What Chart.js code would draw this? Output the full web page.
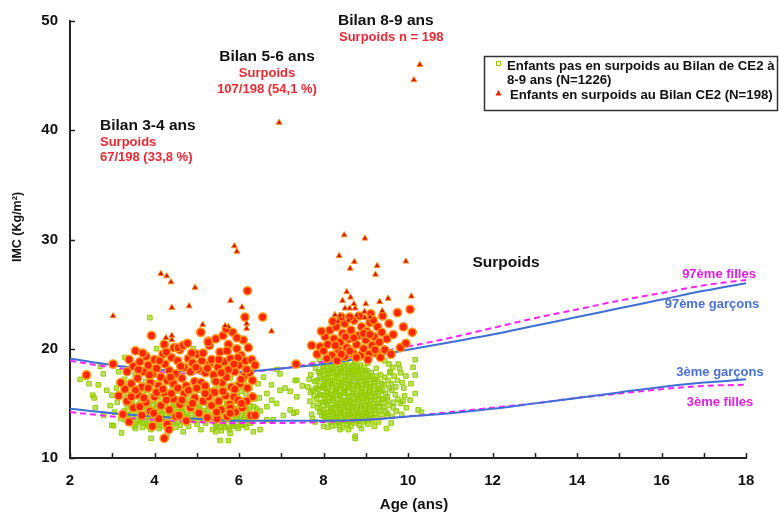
<!DOCTYPE html>
<html>
<head>
<meta charset="utf-8">
<script src="https://cdn.jsdelivr.net/npm/chart.js@4.4.1/dist/chart.umd.min.js"></script>
<style>
  html, body { margin: 0; padding: 0; background: #fff; }
  canvas { display: block; }
</style>
</head>
<body>
<canvas id="chart" width="779" height="515"></canvas>
<script>
const FONT = '"Liberation Sans", Arial, sans-serif';

// reference curves (IMC, percentiles)
const CURVE_AGES = [2, 3, 4, 5, 6, 7, 8, 9, 10, 11, 12, 13, 14, 15, 16, 17, 18];
const P97_GARCONS = [19.1, 18.5, 18.1, 17.9, 17.9, 18.2, 18.6, 19.2, 19.9, 20.6, 21.3, 22.1, 22.9, 23.7, 24.5, 25.3, 26.0];
const P97_FILLES = [18.9, 18.3, 17.9, 17.7, 17.8, 18.2, 18.8, 19.5, 20.2, 21.0, 21.9, 22.8, 23.6, 24.4, 25.1, 25.8, 26.3];
const P3_GARCONS = [14.5, 14.1, 13.8, 13.6, 13.4, 13.4, 13.4, 13.5, 13.8, 14.1, 14.5, 15.0, 15.5, 16.0, 16.5, 16.9, 17.2];
const P3_FILLES = [14.2, 13.8, 13.5, 13.3, 13.2, 13.2, 13.3, 13.5, 13.8, 14.2, 14.6, 15.0, 15.5, 15.9, 16.3, 16.6, 16.7];

const X_TICKS_MINOR = [2, 3, 4, 5, 6, 7, 8, 9, 10, 11, 12, 13, 14, 15, 16, 17, 18];
const Y_TICKS = [10, 20, 30, 40, 50];

// children not overweight at CE2 [age, IMC]
const GREEN_34 = [
  [2.24,17.2],[2.39,17.4],[2.45,16.8],[2.54,15.75],[2.57,15.5],[2.6,14.6],[2.67,16.7],[2.72,18.4],[2.79,17.7],[2.8,13.9],
  [2.87,16.2],[2.95,14.8],[2.99,15.75],[2.99,13.0],[3.03,12.95],[3.05,14.2],[3.1,16.4],[3.12,15.1],[3.15,17.9],[3.2,13.6],
  [3.3,19.2],[3.89,22.85],[4.05,20.0],[4.92,20.0],[3.55,12.7],[3.92,11.8],[4.68,12.4],[5.45,12.4],[3.22,12.3],[4.3,12.2],[5.1,12.6],
  [3.31,13.5],[3.28,14.3],[3.33,15.0],[3.27,15.8],[3.34,16.6],[3.29,17.2],
  [3.42,13.2],[3.38,14.0],[3.43,14.8],[3.37,15.5],[3.41,16.2],[3.44,17.0],[3.39,18.0],
  [3.52,12.9],[3.48,13.7],[3.53,14.5],[3.47,15.2],[3.51,16.0],[3.49,16.8],[3.54,17.6],
  [3.61,13.4],[3.58,14.1],[3.63,14.9],[3.57,15.6],[3.62,16.4],[3.59,17.3],
  [3.71,12.8],[3.68,13.6],[3.73,14.4],[3.67,15.1],[3.72,15.9],[3.69,16.7],
  [3.81,13.1],[3.78,13.9],[3.83,14.6],[3.77,15.4],[3.82,16.2],[3.79,17.0],[3.84,18.3],
  [3.91,12.6],[3.88,13.4],[3.93,14.2],[3.87,15.0],[3.92,15.7],[3.89,16.5],
  [4.01,13.0],[3.98,13.8],[4.03,14.5],[3.97,15.3],[4.02,16.1],[3.99,16.9],
  [4.11,12.7],[4.08,13.5],[4.13,14.3],[4.07,15.0],[4.12,15.8],[4.09,16.6],[4.14,17.5],
  [4.21,13.2],[4.18,14.0],[4.23,14.7],[4.17,15.5],[4.22,16.3],
  [4.31,12.9],[4.28,13.6],[4.33,14.4],[4.27,15.2],[4.32,16.0],[4.29,16.9],
  [4.41,13.3],[4.38,14.1],[4.43,14.8],[4.37,15.6],[4.42,16.4],
  [4.51,12.8],[4.48,13.7],[4.53,14.5],[4.47,15.3],[4.52,16.1],[4.49,17.1],
  [4.61,13.0],[4.58,13.9],[4.63,14.6],[4.57,15.4],[4.62,16.2],
  [4.71,13.4],[4.68,14.2],[4.73,15.0],[4.67,15.8],[4.72,16.7],
  [4.81,12.9],[4.78,13.8],[4.83,14.6],[4.77,15.5],[4.82,16.3],
  [4.91,13.5],[4.88,14.3],[4.93,15.1],[4.87,16.0],
  [5.01,13.1],[4.98,14.0],[5.03,14.8],[4.97,15.7],[5.02,16.6],
  [5.11,13.6],[5.08,14.4],[5.13,15.3],[5.07,16.2],
  [5.21,13.2],[5.18,14.1],[5.23,15.0],
  [5.31,13.8],[5.28,14.7],[5.33,15.6],
  [3.36,13.9],[3.36,14.6],[3.46,13.4],[3.46,14.1],[3.46,14.9],[3.56,13.1],[3.56,13.8],[3.56,14.6],[3.66,13.3],[3.66,14.0],
  [3.66,14.8],[3.76,13.2],[3.76,13.9],[3.76,14.7],[3.86,12.9],[3.86,13.7],[3.86,14.5],[3.96,13.2],[3.96,14.0],[3.96,14.8],
  [4.06,13.1],[4.06,13.9],[4.06,14.6],[4.16,12.9],[4.16,13.7],[4.16,14.5],[4.26,13.3],[4.26,14.0],[4.26,14.9],[4.36,13.0],
  [4.36,13.8],[4.36,14.6],[4.46,13.2],[4.46,14.0],[4.46,14.9],[4.56,13.3],[4.56,14.2],[4.56,15.0],[4.66,13.6],[4.66,14.4],
  [4.76,13.2],[4.76,14.0],[4.76,14.9],[4.86,13.7],[4.86,14.5],[4.96,13.4],[4.96,14.3],[5.06,13.7],[5.06,14.6],[5.16,13.4],
  [5.16,14.3],[5.26,13.5],[5.26,14.4]
];

const GREEN_56 = [
  [5.38,12.6],[5.42,13.3],[5.37,14.0],[5.41,14.7],[5.36,15.5],[5.43,16.3],[5.39,17.1],
  [5.48,12.9],[5.52,13.6],[5.47,14.3],[5.51,15.1],[5.46,15.9],[5.53,16.6],
  [5.58,12.5],[5.62,13.2],[5.57,13.9],[5.61,14.6],[5.56,15.4],[5.63,16.2],[5.59,17.0],
  [5.68,12.8],[5.72,13.5],[5.67,14.2],[5.71,15.0],[5.66,15.7],[5.73,16.5],
  [5.78,12.6],[5.82,13.3],[5.77,14.0],[5.81,14.8],[5.76,15.6],[5.83,16.4],[5.79,17.3],
  [5.88,12.9],[5.92,13.6],[5.87,14.4],[5.91,15.2],[5.86,15.9],[5.93,16.7],
  [5.98,12.7],[6.02,13.4],[5.97,14.1],[6.01,14.9],[5.96,15.7],[6.03,16.5],
  [6.08,13.0],[6.12,13.7],[6.07,14.5],[6.11,15.3],[6.06,16.1],[6.13,16.9],
  [6.18,12.8],[6.22,13.5],[6.17,14.3],[6.21,15.1],[6.16,15.9],
  [6.28,13.2],[6.32,14.0],[6.27,14.8],[6.31,15.6],[6.26,16.4],
  [6.38,13.6],[6.42,14.5],[6.37,15.4],
  [5.45,13.0],[5.45,13.8],[5.45,14.6],[5.55,12.8],[5.55,13.5],[5.55,14.3],[5.65,13.0],[5.65,13.8],[5.65,14.6],[5.75,12.8],
  [5.75,13.6],[5.75,14.4],[5.85,13.1],[5.85,13.9],[5.85,14.7],[5.95,12.9],[5.95,13.7],[5.95,14.5],[6.05,13.1],[6.05,13.9],
  [6.05,14.7],[6.15,13.1],[6.15,13.9],[6.15,14.7],[6.25,13.5],[6.25,14.3],[6.35,13.8],[6.35,14.7],
  [5.3,17.8],[5.6,18.2],[5.9,17.9],[6.2,17.5],[6.35,18.2],[6.45,16.8],[6.5,14.3],[6.48,15.5],
  [6.66,15.9],[6.77,16.7],[6.97,16.2],[7.09,16.4],[7.21,16.1],[7.37,17.1],[6.97,17.7],[6.77,15.3],
  [6.66,14.7],[6.89,15.0],[7.37,15.6],[7.21,14.4],[6.66,13.5],[6.81,13.5],[6.5,12.6],[6.34,12.4],
  [5.55,11.6],[5.75,11.6],[5.79,12.25],[7.05,13.9],[6.58,17.4],[7.5,16.6],[6.9,18.1]
];

const GREEN_89 = [
  [7.33,17.1],[7.36,14.2],[7.29,14.1],[7.63,16.5],[7.68,15.2],[7.72,14.0],[7.7,17.6],[7.75,18.6],[7.8,13.3],[7.75,16.2],
  [10.12,18.3],[10.17,17.6],[10.07,16.8],[10.05,15.3],[10.17,15.9],[10.32,14.2],[10.17,19.0],[10.24,14.4],
  [8.75,11.8],[8.39,12.6],[8.59,12.6],[9.49,12.7],[8.75,12.0],[8.1,12.8],[8.9,12.7],[9.2,12.9],[8.0,12.9],
  [9.6,13.2],[9.65,14.6],[9.7,15.8],[9.75,17.1],[9.8,18.2],[9.55,18.6],[9.9,16.4],[9.85,14.0],[9.58,17.8],
  [9.62,16.2],[9.52,15.3],[9.5,13.9],[9.45,18.9],[7.9,19.0],[9.95,17.5],[9.88,15.2],
  [7.86,14.6],[7.84,15.4],[7.87,16.3],[7.83,17.1],[7.88,17.9],
  [7.96,13.9],[7.93,14.5],[7.97,15.1],[7.94,15.8],[7.98,16.5],[7.95,17.2],[7.92,17.8],[7.97,18.4],
  [8.06,13.5],[8.03,14.1],[8.07,14.8],[8.04,15.4],[8.08,16.0],[8.02,16.7],[8.06,17.3],[8.03,18.0],[8.07,18.6],
  [8.16,13.3],[8.13,13.9],[8.17,14.5],[8.14,15.2],[8.18,15.8],[8.12,16.4],[8.16,17.0],[8.13,17.7],[8.17,18.3],[8.14,18.9],
  [8.26,13.6],[8.23,14.2],[8.27,14.8],[8.24,15.5],[8.28,16.1],[8.22,16.8],[8.26,17.4],[8.23,18.1],[8.27,18.7],
  [8.36,13.2],[8.33,13.8],[8.37,14.4],[8.34,15.0],[8.38,15.7],[8.32,16.3],[8.36,16.9],[8.33,17.6],[8.37,18.2],[8.34,18.9],
  [8.46,13.5],[8.43,14.1],[8.47,14.7],[8.44,15.3],[8.48,16.0],[8.42,16.6],[8.46,17.2],[8.43,17.9],[8.47,18.5],
  [8.56,13.1],[8.53,13.7],[8.57,14.3],[8.54,15.0],[8.58,15.6],[8.52,16.2],[8.56,16.8],[8.53,17.5],[8.57,18.1],[8.54,18.8],
  [8.66,13.4],[8.63,14.0],[8.67,14.6],[8.64,15.2],[8.68,15.9],[8.62,16.5],[8.66,17.1],[8.63,17.8],[8.67,18.4],
  [8.76,13.2],[8.73,13.8],[8.77,14.4],[8.74,15.1],[8.78,15.7],[8.72,16.3],[8.76,16.9],[8.73,17.6],[8.77,18.2],[8.74,18.8],
  [8.86,13.5],[8.83,14.1],[8.87,14.7],[8.84,15.4],[8.88,16.0],[8.82,16.6],[8.86,17.3],[8.83,17.9],[8.87,18.5],
  [8.96,13.3],[8.93,13.9],[8.97,14.5],[8.94,15.2],[8.98,15.8],[8.92,16.4],[8.96,17.0],[8.93,17.7],[8.97,18.3],
  [9.06,13.6],[9.03,14.2],[9.07,14.8],[9.04,15.5],[9.08,16.1],[9.02,16.7],[9.06,17.4],[9.03,18.0],
  [9.16,13.4],[9.13,14.0],[9.17,14.6],[9.14,15.3],[9.18,15.9],[9.12,16.5],[9.16,17.2],[9.13,17.8],
  [9.26,13.7],[9.23,14.4],[9.27,15.0],[9.24,15.6],[9.28,16.3],[9.22,16.9],[9.26,17.5],
  [9.36,14.0],[9.33,14.7],[9.37,15.4],[9.34,16.1],[9.38,16.8],
  [9.46,14.3],[9.43,15.1],[9.47,15.9],[9.44,16.7],
  [8.01,13.8],[8.0,14.4],[8.02,15.1],[8.0,15.7],[8.01,16.4],[8.02,17.0],[8.0,17.6],[8.01,18.3],
  [8.11,13.6],[8.09,14.2],[8.1,14.9],[8.11,15.5],[8.09,16.1],[8.1,16.8],[8.11,17.4],[8.09,18.0],[8.1,18.6],
  [8.21,13.4],[8.19,14.0],[8.2,14.6],[8.21,15.3],[8.19,15.9],[8.2,16.5],[8.21,17.1],[8.19,17.8],[8.2,18.4],
  [8.31,13.5],[8.29,14.1],[8.3,14.7],[8.31,15.4],[8.29,16.0],[8.3,16.6],[8.31,17.3],[8.29,17.9],[8.3,18.5],
  [8.41,13.3],[8.39,13.9],[8.4,14.5],[8.41,15.1],[8.39,15.8],[8.4,16.4],[8.41,17.0],[8.39,17.7],[8.4,18.3],
  [8.51,13.4],[8.49,14.0],[8.5,14.6],[8.51,15.2],[8.49,15.9],[8.5,16.5],[8.51,17.1],[8.49,17.8],[8.5,18.4],
  [8.61,13.3],[8.59,13.9],[8.6,14.5],[8.61,15.1],[8.59,15.7],[8.6,16.4],[8.61,17.0],[8.59,17.6],[8.6,18.3],
  [8.71,13.5],[8.69,14.1],[8.7,14.7],[8.71,15.4],[8.69,16.0],[8.7,16.6],[8.71,17.3],[8.69,17.9],[8.7,18.5],
  [8.81,13.4],[8.79,14.0],[8.8,14.6],[8.81,15.2],[8.79,15.9],[8.8,16.5],[8.81,17.1],[8.79,17.8],[8.8,18.4],
  [8.91,13.6],[8.89,14.2],[8.9,14.8],[8.91,15.5],[8.89,16.1],[8.9,16.7],[8.91,17.4],[8.89,18.0],
  [9.01,13.5],[8.99,14.1],[9.0,14.7],[9.01,15.3],[8.99,16.0],[9.0,16.6],[9.01,17.2],[8.99,17.9],
  [9.11,13.7],[9.09,14.3],[9.1,14.9],[9.11,15.6],[9.09,16.2],[9.1,16.8],[9.11,17.5],
  [9.21,14.0],[9.19,14.7],[9.2,15.3],[9.21,16.0],[9.19,16.6],[9.2,17.2],
  [9.31,14.3],[9.29,15.0],[9.3,15.7],[9.31,16.4],[9.29,17.0],
  [9.41,14.6],[9.39,15.4],[9.4,16.2],
  [7.91,14.2],[7.9,15.0],[7.91,15.8],[7.9,16.6],[7.91,17.4],
  [9.52,14.1],[9.55,14.8],[9.51,15.6],[9.56,16.4],[9.53,17.1],[9.57,17.9],
  [9.62,13.8],[9.66,15.1],[9.61,16.8],[9.67,17.5],[9.64,18.3],
  [9.72,14.3],[9.76,15.4],[9.71,16.5],[9.77,18.6],
  [9.82,15.0],[9.86,16.9],[9.83,17.8],[9.92,15.7],[9.96,14.6],
  [7.76,14.8],[7.78,15.7],[7.79,17.0],[7.81,18.2],[7.82,16.4],[7.69,16.0],[7.66,17.2],[7.74,13.6],
  [8.05,19.0],[8.25,19.2],[8.45,19.1],[8.65,19.3],[8.85,19.1],[9.05,18.7],[9.25,18.2],[9.35,17.6],[9.45,17.4],
  [8.2,12.9],[8.45,12.8],[8.65,12.9],[8.85,13.0],[9.05,13.1],[9.3,13.3],[8.3,13.0]
];

// overweight children at CE2, shown as round dots [age, IMC]
const RED_34 = [
  [3.35,17.9],[3.4,19.0],[3.45,16.8],[3.5,18.4],[3.55,19.8],[3.6,17.3],[3.65,18.8],[3.7,16.5],[3.75,17.9],[3.8,19.3],
  [3.85,18.5],[3.9,16.9],[3.95,17.7],[4.0,19.0],[4.05,18.2],[4.1,16.6],[4.15,17.4],[4.2,19.5],[4.25,18.6],[4.3,17.1],
  [4.35,18.0],[4.4,19.2],[4.45,16.8],[4.5,17.7],[4.55,18.9],[4.6,19.9],[4.65,17.3],[4.7,18.3],[4.75,16.6],[4.8,19.1],
  [4.85,17.9],[4.9,18.7],[4.95,17.0],[5.0,19.5],[5.05,18.1],[5.1,16.9],[5.2,17.8],[5.3,18.6],[3.3,16.3],
  [3.93,21.2],[4.46,20.1],[4.56,20.1],[4.68,20.3],[4.78,20.5],[5.09,21.5],[5.27,20.7],[4.23,20.4],
  [3.35,15.2],[3.5,14.6],[3.6,15.8],[3.7,13.9],[3.8,15.1],[3.9,14.3],[4.0,15.6],[4.1,13.6],[4.15,14.8],[4.25,15.9],
  [4.3,13.1],[4.35,14.4],[4.45,15.4],[4.5,13.8],[4.6,14.9],[4.7,15.9],[4.75,13.4],[4.85,14.6],[4.95,15.5],[5.05,14.1],
  [5.15,15.2],[5.25,13.7],[5.35,16.0],[3.25,14.0],[3.4,13.3],[3.95,12.9],[4.23,11.8],[4.34,12.6],[3.2,16.9],[3.15,15.7],
  [2.39,17.6],[3.02,18.6],[3.55,16.2],[3.75,15.5],[3.85,16.4],[4.05,16.0],[4.2,16.3],[4.4,15.9],[4.55,16.4],[4.65,15.3],
  [4.8,16.2],[5.0,16.4],[3.45,15.6],[4.9,15.0],[4.28,15.3],[3.65,14.7],[4.58,13.9],[3.98,14.1],
  [3.62,18.1],[3.88,17.6],[4.12,18.9],[4.38,17.4],[4.62,18.4],[4.88,19.6],[5.12,18.9],[3.72,19.6],[4.28,19.7],[4.98,18.3]
];

const RED_56 = [
  [5.3,20.3],[5.35,19.0],[5.4,17.6],[5.45,20.9],[5.5,18.3],[5.55,19.7],[5.6,16.9],[5.62,21.2],[5.65,18.8],[5.7,17.4],
  [5.75,20.4],[5.8,19.1],[5.82,16.5],[5.85,21.5],[5.9,17.9],[5.95,20.0],[6.0,18.5],[6.02,16.8],[6.05,19.4],[6.1,20.8],
  [6.12,17.5],[6.15,18.9],[6.2,16.4],[6.22,20.1],[6.25,17.8],[6.3,19.0],[6.32,15.6],[5.25,18.2],[5.2,16.6],[5.15,19.6],
  [5.42,16.0],[5.52,15.2],[5.58,14.4],[5.68,15.7],[5.72,13.8],[5.78,14.9],[5.88,15.6],[5.92,14.2],[5.98,15.3],[6.08,14.6],
  [6.18,15.2],[6.28,13.9],[5.48,13.6],[5.35,14.8],[5.28,15.6],[5.62,16.1],[5.9,16.3],[6.05,17.2],[5.45,17.0],[5.75,18.1],
  [6.32,17.1],[6.38,18.5],[5.47,14.2],[5.79,14.6],[5.79,14.1],[6.06,15.0],[6.38,13.9],[5.2,15.9],
  [6.2,25.3],[6.56,22.9],[6.14,22.9],[5.1,21.5],[5.27,20.6],[7.35,18.6],[5.95,21.0],[5.7,21.8],
  [5.52,19.0],[5.72,19.8],[5.98,19.2],[6.18,18.1],[5.88,18.6],[5.58,17.8]
];

const RED_89 = [
  [7.72,20.3],[7.92,20.2],[8.04,21.1],[8.15,21.7],[7.85,19.5],[8.0,19.8],[8.1,20.4],[8.2,19.4],[8.25,20.9],[8.3,22.0],
  [8.35,19.9],[8.4,20.6],[8.45,21.4],[8.5,19.3],[8.5,22.3],[8.55,20.1],[8.6,20.9],[8.65,21.7],[8.7,19.6],[8.72,22.6],
  [8.78,20.4],[8.82,21.2],[8.88,19.4],[8.9,22.0],[8.95,20.0],[9.0,20.8],[9.02,21.6],[9.08,19.5],[9.1,22.4],[9.15,20.3],
  [9.2,21.1],[9.25,19.6],[9.28,22.0],[9.32,20.6],[9.38,21.5],[9.45,19.9],[9.5,20.9],[9.55,22.3],[9.6,19.5],[9.65,21.3],
  [9.75,23.3],[10.05,23.6],[9.89,22.0],[10.1,21.5],[9.82,20.1],[9.95,20.5],[8.42,22.9],[8.85,23.0],[9.12,23.2],[9.4,23.0],
  [8.62,22.9],[8.22,22.5],[8.08,19.1],[8.32,18.9],[9.05,19.0],[9.35,19.2],[7.95,21.6],[8.95,21.4],[9.18,22.6],
  [8.42,19.5],[8.62,19.8],[8.78,19.2],[9.22,19.9],[8.28,20.3],[8.72,21.0],[9.1,21.3],[8.52,21.1]
];

// overweight children, extreme values shown as triangles [age, IMC]
const RED_TRI = [
  [3.02,23.0],[4.15,26.87],[4.29,26.65],[4.39,26.1],[4.96,25.6],[4.41,23.76],[4.82,23.9],[5.14,22.2],[4.27,21.0],[4.41,21.2],
  [4.41,20.8],[5.89,29.4],[5.95,28.9],[5.80,24.4],[6.07,23.8],[6.18,22.3],[6.18,21.85],[6.77,21.6],[5.75,22.0],[5.67,22.1],
  [6.95,40.7],[10.14,44.6],[10.28,46.0],
  [8.49,30.4],[8.98,30.1],[8.37,28.5],[8.73,27.96],[8.63,27.35],[9.27,27.6],[9.95,28.0],[9.23,26.8],[8.55,25.2],[8.64,24.7],
  [8.45,24.4],[8.72,24.1],[9.0,24.1],[9.33,24.3],[9.53,24.6],[10.08,24.8],[8.51,23.7],[8.62,23.7],[8.75,23.7],[8.97,23.4],
  [9.39,23.45],[8.27,23.1],[8.39,23.05],[8.34,22.5],[8.59,22.6],[8.79,23.06],[8.98,22.85],[9.1,22.9]
];

const GREEN = '#95cc00';
const RED_FILL = '#ff2600';
const RED_RIM = '#ff9a1a';
const BLUE = '#3f6fd6';
const MAGENTA = '#ff22ff';

function pts(list) {
  return list.map((p) => ({ x: p[0], y: p[1] }));
}

function curve(values) {
  return CURVE_AGES.map((a, i) => ({ x: a, y: values[i] }));
}

function lineSet(values, color, dashed) {
  return {
    type: 'line',
    data: curve(values),
    borderColor: color,
    borderWidth: 2,
    borderDash: dashed ? [6, 4] : [],
    pointRadius: 0,
    fill: false,
    cubicInterpolationMode: 'monotone',
    order: 4,
  };
}

const greenStyle = {
  pointStyle: 'rect',
  pointRadius: 3.2,
  borderWidth: 1,
  borderColor: GREEN,
  backgroundColor: 'rgba(149,204,0,0.6)',
  order: 5,
};
const dotStyle = {
  pointStyle: 'circle',
  pointRadius: 4.1,
  borderWidth: 1.5,
  borderColor: RED_RIM,
  backgroundColor: RED_FILL,
  order: 3,
};

function text(ctx, str, x, y, font, color, align) {
  ctx.font = font;
  ctx.fillStyle = color;
  ctx.textAlign = align || 'left';
  ctx.textBaseline = 'middle';
  ctx.fillText(str, x, y);
}

const decor = {
  id: 'decor',
  afterDraw(chart) {
    const { ctx } = chart;
    const xs = chart.scales.x;
    const ys = chart.scales.y;
    ctx.save();
    // inward tick marks
    ctx.strokeStyle = '#222';
    ctx.lineWidth = 1.5;
    X_TICKS_MINOR.forEach((v) => {
      const px = Math.round(xs.getPixelForValue(v)) + 0.5;
      ctx.beginPath();
      ctx.moveTo(px, ys.bottom);
      ctx.lineTo(px, ys.bottom - 5);
      ctx.stroke();
    });
    Y_TICKS.forEach((v) => {
      const py = Math.round(ys.getPixelForValue(v)) + 0.5;
      ctx.beginPath();
      ctx.moveTo(xs.left, py);
      ctx.lineTo(xs.left + 5, py);
      ctx.stroke();
    });

    const big = 'bold 15.5px ' + FONT;
    const small = 'bold 13px ' + FONT;
    const red = '#ea2a33';
    text(ctx, 'Bilan 3-4 ans', 100, 126, big, '#111');
    text(ctx, 'Surpoids', 100, 142, small, red);
    text(ctx, '67/198 (33,8 %)', 100, 157, small, red);
    text(ctx, 'Bilan 5-6 ans', 267, 57, big, '#111', 'center');
    text(ctx, 'Surpoids', 267, 73, small, red, 'center');
    text(ctx, '107/198 (54,1 %)', 267, 89, small, red, 'center');
    text(ctx, 'Bilan 8-9 ans', 338, 21, big, '#111');
    text(ctx, 'Surpoids n = 198', 339, 37, small, red);
    text(ctx, 'Surpoids', 506, 263, 'bold 15.5px ' + FONT, '#111', 'center');
    text(ctx, '97ème filles', 719, 274, small, '#e020e0', 'center');
    text(ctx, '97ème garçons', 712, 304, small, '#4a70d2', 'center');
    text(ctx, '3ème garçons', 720, 372, small, '#4a70d2', 'center');
    text(ctx, '3ème filles', 720, 402, small, '#e020e0', 'center');

    // axis titles
    text(ctx, 'Age (ans)', 414, 505, 'bold 15px ' + FONT, '#111', 'center');
    ctx.save();
    ctx.translate(18, 227);
    ctx.rotate(-Math.PI / 2);
    text(ctx, 'IMC (Kg/m²)', 0, 0, 'bold 12.5px ' + FONT, '#111', 'center');
    ctx.restore();

    // legend box
    ctx.fillStyle = '#fff';
    ctx.fillRect(484, 56, 294, 55);
    ctx.strokeStyle = '#333';
    ctx.lineWidth = 1.5;
    ctx.strokeRect(484.5, 56.5, 293, 54);
    ctx.strokeStyle = GREEN;
    ctx.lineWidth = 1;
    ctx.strokeRect(496.5, 61.5, 4, 4);
    ctx.fillStyle = '#e81e00';
    ctx.beginPath();
    ctx.moveTo(498.5, 90);
    ctx.lineTo(501.5, 95.5);
    ctx.lineTo(495.5, 95.5);
    ctx.closePath();
    ctx.fill();
    const lf = 'bold 13.2px ' + FONT;
    text(ctx, 'Enfants pas en surpoids au Bilan de CE2 à', 507, 66, lf, '#111');
    text(ctx, '8-9 ans (N=1226)', 507, 80, lf, '#111');
    text(ctx, 'Enfants en surpoids au Bilan CE2 (N=198)', 510, 95, lf, '#111');
    ctx.restore();
  },
};

const tickFont = { family: FONT, size: 15, weight: 'bold' };

new Chart(document.getElementById('chart'), {
  type: 'scatter',
  data: {
    datasets: [
      { ...greenStyle, data: pts(GREEN_34.concat(GREEN_56, GREEN_89)) },
      lineSet(P97_GARCONS, BLUE, false),
      lineSet(P97_FILLES, MAGENTA, true),
      lineSet(P3_GARCONS, BLUE, false),
      lineSet(P3_FILLES, MAGENTA, true),
      { ...dotStyle, data: pts(RED_34.concat(RED_56, RED_89)) },
      {
        data: pts(RED_TRI),
        pointStyle: 'triangle',
        pointRadius: 3.4,
        borderWidth: 1,
        borderColor: '#ff8a1a',
        backgroundColor: '#d01000',
        order: 2,
      },
    ],
  },
  options: {
    responsive: false,
    animation: false,
    layout: { padding: { top: 20, right: 33, left: 0, bottom: 0 } },
    plugins: { legend: { display: false }, tooltip: { enabled: false } },
    scales: {
      x: {
        type: 'linear',
        min: 2,
        max: 18,
        ticks: { stepSize: 2, font: tickFont, color: '#111', padding: 14 },
        grid: { display: false, drawTicks: false },
        border: { display: true, color: '#222', width: 2 },
        afterFit(s) { s.height = 57; },
      },
      y: {
        min: 10,
        max: 50,
        ticks: { stepSize: 10, font: tickFont, color: '#111', padding: 12 },
        grid: { display: false, drawTicks: false },
        border: { display: true, color: '#222', width: 2 },
        afterFit(s) { s.width = 70; },
      },
    },
  },
  plugins: [decor],
});
</script>
</body>
</html>
